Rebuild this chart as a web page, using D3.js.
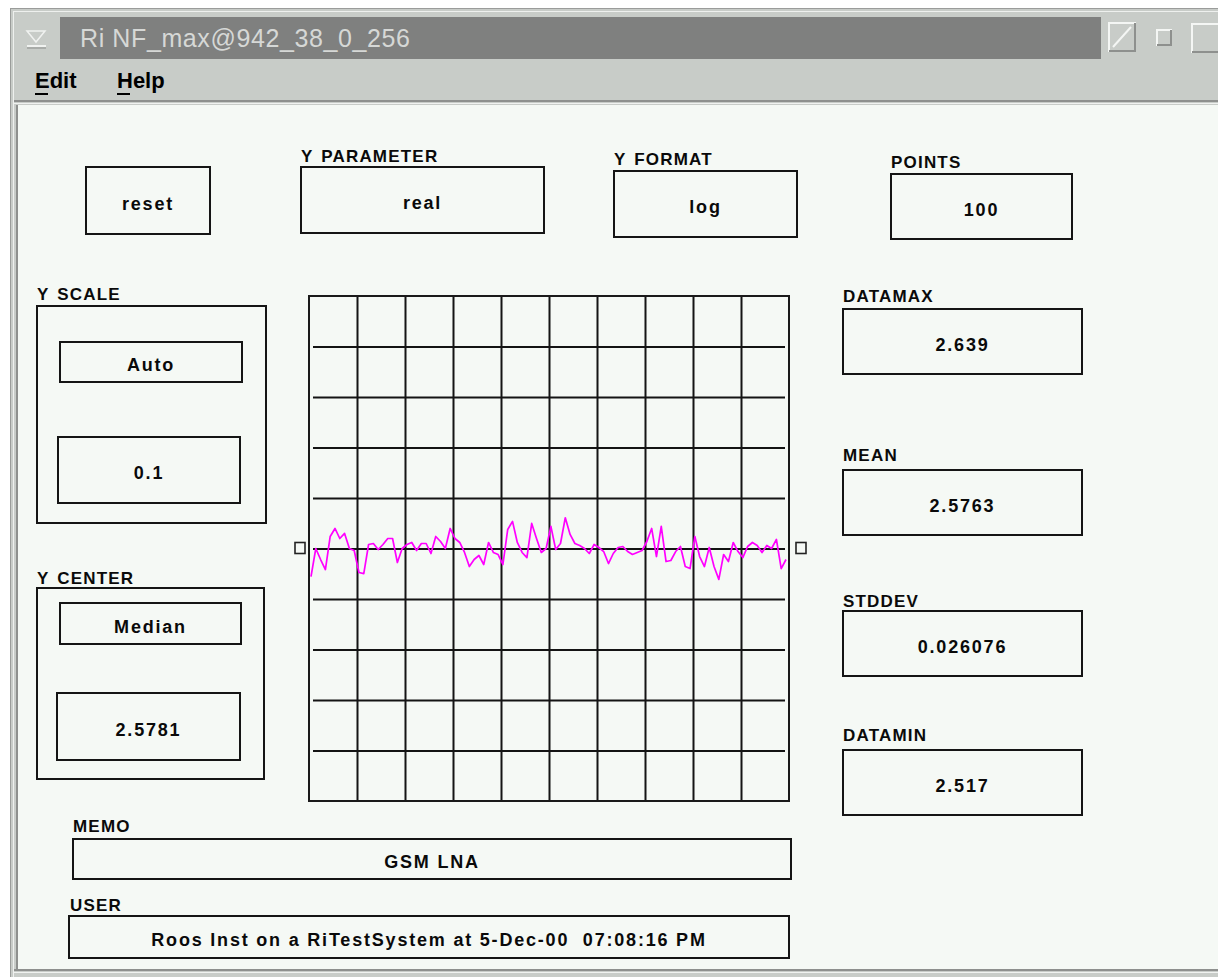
<!DOCTYPE html>
<html>
<head>
<meta charset="utf-8">
<script src="https://cdn.jsdelivr.net/npm/d3@7/dist/d3.min.js"></script>
<style>
  html, body { margin: 0; padding: 0; background: #ffffff; }
  svg { display: block; }
  text { font-family: "Liberation Sans", Arial, sans-serif; white-space: pre; }
</style>
</head>
<body>
<svg id="win" width="1218" height="977"></svg>
<script>
// Noise-figure trace, 100 samples (real part, linear units)
const nfValues = [
  2.5225, 2.5781, 2.5563, 2.5364, 2.6019, 2.6178, 2.5979, 2.6079, 2.5781, 2.5741,
  2.5305, 2.5285, 2.5860, 2.5880, 2.5761, 2.5860, 2.5979, 2.5979, 2.5503, 2.5781,
  2.5860, 2.5900, 2.5741, 2.5880, 2.5880, 2.5682, 2.6019, 2.5920, 2.5781, 2.6178,
  2.5979, 2.5900, 2.5702, 2.5424, 2.5563, 2.5642, 2.5464, 2.5900, 2.5702, 2.5662,
  2.5464, 2.6158, 2.6317, 2.5900, 2.5702, 2.5602, 2.6277, 2.5979, 2.5702, 2.5781,
  2.6218, 2.5761, 2.5880, 2.6390, 2.6059, 2.5880, 2.5841, 2.5781, 2.5682, 2.5860,
  2.5801, 2.5721, 2.5483, 2.5682, 2.5801, 2.5821, 2.5721, 2.5662, 2.5702, 2.5741,
  2.5920, 2.6178, 2.5622, 2.6218, 2.5523, 2.5543, 2.5721, 2.5821, 2.5424, 2.5384,
  2.6019, 2.5622, 2.5424, 2.5801, 2.5424, 2.5170, 2.5662, 2.5523, 2.5900, 2.5721,
  2.5602, 2.5821, 2.5900, 2.5841, 2.5702, 2.5841, 2.5781, 2.5960, 2.5384, 2.5563
];

// Display settings
const yCenterValue = 2.5781;   // median
const yPerDivision = 0.1;
const gridDivisions = 10;

const windowTitle = "Ri NF_max@942_38_0_256";
const menuItems = ["Edit", "Help"];

const topControlLabels = ["", "Y PARAMETER", "Y FORMAT", "POINTS"];
const topControlValues = ["reset", "real", "log", "100"];

const scaleLabel = "Y SCALE";
const scaleValues = ["Auto", "0.1"];
const centerLabel = "Y CENTER";
const centerValues = ["Median", "2.5781"];

const statLabels = ["DATAMAX", "MEAN", "STDDEV", "DATAMIN"];
const statValues = ["2.639", "2.5763", "0.026076", "2.517"];

const infoLabels = ["MEMO", "USER"];
const infoValues = ["GSM LNA", "Roos Inst on a RiTestSystem at 5-Dec-00  07:08:16 PM"];

// ---------------------------------------------------------------
const svg = d3.select("#win");
const GRAY = "#c8ccc8", DARK = "#7f807f", PANEL = "#f5f9f5", INK = "#0a0a0a";

// window frame
svg.append("rect").attr("x", 10).attr("y", 8).attr("width", 1208).attr("height", 969).attr("fill", GRAY);
svg.append("line").attr("x1", 10).attr("y1", 8.5).attr("x2", 1218).attr("y2", 8.5).attr("stroke", "#9a9c9a");
svg.append("line").attr("x1", 10.5).attr("y1", 8).attr("x2", 10.5).attr("y2", 977).attr("stroke", "#9a9c9a");
svg.append("line").attr("x1", 13).attr("y1", 11.5).attr("x2", 1218).attr("y2", 11.5).attr("stroke", "#eef0ee");
svg.append("line").attr("x1", 13.5).attr("y1", 11).attr("x2", 13.5).attr("y2", 977).attr("stroke", "#eef0ee");

// title bar
svg.append("rect").attr("x", 60).attr("y", 17).attr("width", 1041).attr("height", 42).attr("fill", DARK);
svg.append("text").attr("x", 80).attr("y", 47).attr("font-size", 25).attr("letter-spacing", 0.6)
  .attr("fill", "#d6d8d6").text(windowTitle);

// window menu button (left)
const wm = svg.append("g");
wm.append("path").attr("d", "M27,31 L45,31 L36,42 Z").attr("fill", "none").attr("stroke", "#f0f2f0").attr("stroke-width", 1.5);
wm.append("line").attr("x1", 27).attr("y1", 46).attr("x2", 46).attr("y2", 46).attr("stroke", "#f0f2f0").attr("stroke-width", 2);
wm.append("line").attr("x1", 27).attr("y1", 48).attr("x2", 46).attr("y2", 48).attr("stroke", "#8a8c8a").attr("stroke-width", 1);

// title-bar buttons (right)
function bevel(x, y, w, h) {
  svg.append("rect").attr("x", x).attr("y", y).attr("width", w).attr("height", h)
    .attr("fill", "none").attr("stroke", "#f4f6f4").attr("stroke-width", 2);
  svg.append("path").attr("d", `M${x + w},${y} L${x + w},${y + h} L${x},${y + h}`)
    .attr("fill", "none").attr("stroke", "#8e908e").attr("stroke-width", 2);
}
bevel(1109, 23, 26, 28);
svg.append("line").attr("x1", 1113).attr("y1", 47).attr("x2", 1131).attr("y2", 27).attr("stroke", "#f4f6f4").attr("stroke-width", 2);
bevel(1157, 30, 14, 15);
bevel(1192, 24, 30, 28);

// menu bar
menuItems.forEach((m, i) => {
  const x = i === 0 ? 35 : 117;
  svg.append("text").attr("x", x).attr("y", 88).attr("font-size", 22).attr("font-weight", "bold")
    .attr("fill", "#000").text(m);
  svg.append("line").attr("x1", x).attr("y1", 94).attr("x2", x + 13).attr("y2", 94)
    .attr("stroke", "#000").attr("stroke-width", 2);
});
svg.append("line").attr("x1", 14).attr("y1", 101).attr("x2", 1218).attr("y2", 101).attr("stroke", "#8e908e").attr("stroke-width", 2);
svg.append("line").attr("x1", 14).attr("y1", 103.5).attr("x2", 1218).attr("y2", 103.5).attr("stroke", "#f0f2f0").attr("stroke-width", 1);

// content panel
svg.append("rect").attr("x", 18).attr("y", 105).attr("width", 1200).attr("height", 864).attr("fill", PANEL);
svg.append("line").attr("x1", 17).attr("y1", 105).attr("x2", 17).attr("y2", 969).attr("stroke", "#8e908e").attr("stroke-width", 2);
svg.append("line").attr("x1", 14).attr("y1", 970).attr("x2", 1218).attr("y2", 970).attr("stroke", "#8e908e").attr("stroke-width", 2);
svg.append("line").attr("x1", 14).attr("y1", 972.5).attr("x2", 1218).attr("y2", 972.5).attr("stroke", "#f0f2f0").attr("stroke-width", 1);

// ---------------------------------------------------------------
// widgets
const labelFont = { size: 17, spacing: 1.2, word: 2 };
const valueFont = { size: 18, spacing: 1.8 };

function box(x, y, w, h) {
  svg.append("rect").attr("x", x).attr("y", y).attr("width", w).attr("height", h)
    .attr("fill", "none").attr("stroke", "#151515").attr("stroke-width", 2);
}
function label(x, y, t) {
  svg.append("text").attr("x", x).attr("y", y).attr("font-size", labelFont.size)
    .attr("font-weight", "bold").attr("letter-spacing", labelFont.spacing)
    .attr("word-spacing", labelFont.word).attr("fill", INK).text(t);
}
function value(cx, cy, t) {
  svg.append("text").attr("x", cx).attr("y", cy + 9).attr("text-anchor", "middle")
    .attr("font-size", valueFont.size).attr("font-weight", "bold").attr("letter-spacing", valueFont.spacing)
    .attr("fill", INK).text(t);
}
function field(lbl, val, lx, ly, bx, by, bw, bh) {
  if (lbl) label(lx, ly, lbl);
  box(bx, by, bw, bh);
  value(bx + bw / 2, by + bh / 2, val);
}

// top row
const topLayout = [
  { lx: 86, ly: 160, b: [86, 167, 124, 67] },
  { lx: 301, ly: 162, b: [301, 167, 243, 66] },
  { lx: 614, ly: 165, b: [614, 171, 183, 66] },
  { lx: 891, ly: 168, b: [891, 174, 181, 65] }
];
topControlLabels.forEach((l, i) => {
  const L = topLayout[i];
  field(l, topControlValues[i], L.lx, L.ly, ...L.b);
});

// Y SCALE group
label(37, 300, scaleLabel);
box(37, 306, 229, 217);
field("", scaleValues[0], 0, 0, 60, 342, 182, 40);
field("", scaleValues[1], 0, 0, 58, 437, 182, 66);

// Y CENTER group
label(37, 584, centerLabel);
box(37, 588, 227, 191);
field("", centerValues[0], 0, 0, 60, 603, 181, 41);
field("", centerValues[1], 0, 0, 57, 693, 183, 67);

// statistics column
const statLayout = [
  { ly: 302, by: 309 },
  { ly: 461, by: 470 },
  { ly: 607, by: 611 },
  { ly: 741, by: 750 }
];
statLabels.forEach((l, i) => {
  field(l, statValues[i], 843, statLayout[i].ly, 843, statLayout[i].by, 239, 65);
});

// memo / user
field(infoLabels[0], infoValues[0], 73, 832, 73, 839, 718, 40);
field(infoLabels[1], infoValues[1], 70, 911, 69, 916, 720, 42);

// ---------------------------------------------------------------
// trace plot
const plot = { x0: 309, x1: 789, y0: 296, y1: 801 };

const yHalf = yPerDivision * gridDivisions / 2;
const y = d3.scaleLinear()
  .domain([yCenterValue - yHalf, yCenterValue + yHalf])
  .range([plot.y1, plot.y0]);
const xDiv = d3.scaleLinear().domain([0, gridDivisions]).range([plot.x0, plot.x1]);
const x = d3.scaleLinear().domain([0, nfValues.length - 1]).range([plot.x0 + 2, plot.x1 - 3]);

const g = svg.append("g");

// vertical graticule
g.append("g")
  .attr("transform", `translate(0,${plot.y1})`)
  .call(d3.axisBottom(xDiv).tickValues(d3.range(1, gridDivisions)).tickSize(-(plot.y1 - plot.y0)).tickFormat(""))
  .call(a => a.select(".domain").remove())
  .call(a => a.selectAll(".tick line").attr("stroke", "#141414").attr("stroke-width", 2));

// horizontal graticule
const yTicks = d3.range(1, gridDivisions).map(k => yCenterValue - yHalf + k * yPerDivision);
g.append("g")
  .attr("transform", `translate(${plot.x0},0)`)
  .call(d3.axisLeft(y).tickValues(yTicks).tickSize(-(plot.x1 - plot.x0)).tickFormat(""))
  .call(a => a.select(".domain").remove())
  .call(a => a.selectAll(".tick line").attr("stroke", "#141414").attr("stroke-width", 1.8)
    .attr("x1", 4).attr("x2", plot.x1 - plot.x0 - 4));

// frame
g.append("rect").attr("x", plot.x0).attr("y", plot.y0)
  .attr("width", plot.x1 - plot.x0).attr("height", plot.y1 - plot.y0)
  .attr("fill", "none").attr("stroke", "#1a1a1a").attr("stroke-width", 2);

// center markers
const yc = y(yCenterValue);
[plot.x0 - 14, plot.x1 + 7].forEach(mx => {
  g.append("rect").attr("x", mx).attr("y", yc - 6).attr("width", 10).attr("height", 11)
    .attr("fill", PANEL).attr("stroke", "#222").attr("stroke-width", 1.6);
});

// data trace
g.append("path")
  .datum(nfValues)
  .attr("fill", "none")
  .attr("stroke", "#ff00ff")
  .attr("stroke-width", 1.7)
  .attr("stroke-linejoin", "round")
  .attr("d", d3.line().x((d, i) => x(i)).y(d => y(d)));
</script>
</body>
</html>
